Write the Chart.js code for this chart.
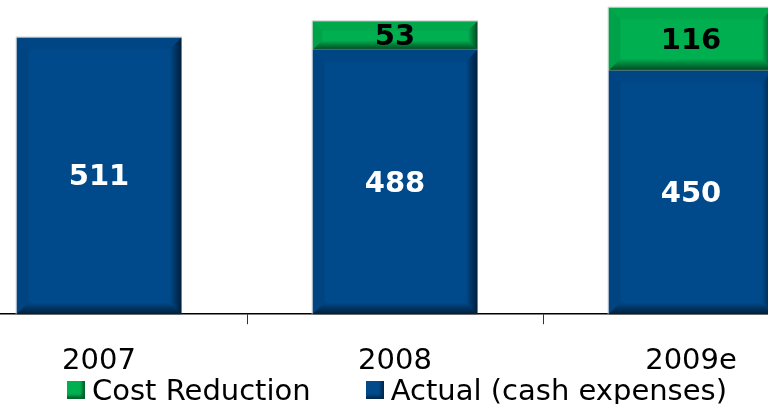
<!DOCTYPE html>
<html>
<head>
<meta charset="utf-8">
<script src="https://cdn.jsdelivr.net/npm/chart.js@4"></script>
<style>
    html, body {
        margin: 0;
        padding: 0;
        background: #fff;
        overflow: hidden;
        width: 768px;
        height: 404px;
        font-family: "DejaVu Sans", Verdana, sans-serif;
    }
    #chart-wrap {
        position: absolute;
        left: -49px;
        top: 0;
        width: 888px;
        height: 404px;
    }
    #legend {
        position: absolute;
        left: 13px;
        top: 373px;
        width: 768px;
        display: flex;
        justify-content: center;
        gap: 55px;
        font-size: 29px;
        line-height: 34px;
        color: #000;
        white-space: nowrap;
    }
    .legend-item {
        display: flex;
        align-items: center;
    }
    .legend-box {
        width: 18px;
        height: 18px;
        margin-right: 7px;
        box-shadow: inset -3px -3px 3px rgba(0,0,0,0.45);
    }
</style>
</head>
<body>
<div id="chart-wrap"><canvas id="costChart"></canvas></div>
<div id="legend"></div>

<script>
const years = ["2007", "2008", "2009e"];
const actualValues = [511, 488, 450];
const reductionValues = [0, 53, 116];

const blue = "#004A8C";
const green = "#00B050";

// bevelled look of the bars
const bevelPlugin = {
    id: "bevel",
    afterDatasetsDraw(chart) {
        const ctx = chart.ctx;
        chart.data.datasets.forEach((ds, i) => {
            chart.getDatasetMeta(i).data.forEach((bar, j) => {
                if (!ds.data[j]) return;
                const p = bar.getProps(["x", "y", "base", "width"], true);
                const l = p.x - p.width / 2;
                const r = p.x + p.width / 2;
                const t = Math.min(p.y, p.base);
                const b = Math.max(p.y, p.base);
                const s = Math.min(12, (b - t) / 3);
                ctx.save();

                ctx.fillStyle = "rgba(0,0,0,0.05)";
                ctx.beginPath();
                ctx.moveTo(l, t); ctx.lineTo(r, t); ctx.lineTo(r - s, t + s); ctx.lineTo(l + s, t + s);
                ctx.fill();

                ctx.fillStyle = "rgba(0,0,0,0.08)";
                ctx.beginPath();
                ctx.moveTo(l, t); ctx.lineTo(l + s, t + s); ctx.lineTo(l + s, b - s); ctx.lineTo(l, b);
                ctx.fill();

                let g = ctx.createLinearGradient(r, 0, r - s, 0);
                g.addColorStop(0, "rgba(0,0,0,0.6)");
                g.addColorStop(1, "rgba(0,0,0,0.0)");
                ctx.fillStyle = g;
                ctx.beginPath();
                ctx.moveTo(r, t); ctx.lineTo(r, b); ctx.lineTo(r - s, b - s); ctx.lineTo(r - s, t + s);
                ctx.fill();

                g = ctx.createLinearGradient(0, b, 0, b - s);
                g.addColorStop(0, "rgba(0,0,0,0.6)");
                g.addColorStop(1, "rgba(0,0,0,0.0)");
                ctx.fillStyle = g;
                ctx.beginPath();
                ctx.moveTo(l, b); ctx.lineTo(r, b); ctx.lineTo(r - s, b - s); ctx.lineTo(l + s, b - s);
                ctx.fill();

                ctx.strokeStyle = "rgba(200,200,200,0.7)";
                ctx.lineWidth = 1;
                ctx.beginPath();
                ctx.moveTo(l - 0.5, b); ctx.lineTo(l - 0.5, t - 0.5); ctx.lineTo(r + 0.5, t - 0.5);
                ctx.stroke();
                ctx.restore();
            });
        });
    }
};

const valueLabels = {
    id: "valueLabels",
    afterDatasetsDraw(chart) {
        const ctx = chart.ctx;
        ctx.save();
        ctx.font = "bold 29px 'DejaVu Sans'";
        ctx.textAlign = "center";
        ctx.textBaseline = "middle";
        chart.data.datasets.forEach((ds, i) => {
            chart.getDatasetMeta(i).data.forEach((bar, j) => {
                const v = ds.data[j];
                if (!v) return;
                const p = bar.getProps(["x", "y", "base"], true);
                ctx.fillStyle = ds.labelColor;
                ctx.fillText(String(v), p.x, (p.y + p.base) / 2 + 2);
            });
        });
        ctx.restore();
    }
};

const chart = new Chart(document.getElementById("costChart"), {
    type: "bar",
    data: {
        labels: years,
        datasets: [
            {
                label: "Actual (cash expenses)",
                data: actualValues,
                backgroundColor: blue,
                labelColor: "#fff",
                categoryPercentage: 1,
                barPercentage: 0.557
            },
            {
                label: "Cost Reduction",
                data: reductionValues,
                backgroundColor: green,
                labelColor: "#000",
                categoryPercentage: 1,
                barPercentage: 0.557
            }
        ]
    },
    options: {
        responsive: true,
        maintainAspectRatio: false,
        animation: false,
        layout: {
            padding: { top: 0, left: 0, right: 0, bottom: 5 }
        },
        scales: {
            x: {
                stacked: true,
                border: { color: "#000", width: 1.5 },
                grid: {
                    drawOnChartArea: false,
                    tickLength: 10,
                    color: "#333"
                },
                ticks: {
                    color: "#000",
                    padding: 20,
                    font: { family: "DejaVu Sans", size: 29 }
                }
            },
            y: {
                stacked: true,
                display: false,
                min: 0,
                max: 580
            }
        },
        plugins: {
            legend: { display: false },
            tooltip: { enabled: false }
        }
    },
    plugins: [bevelPlugin, valueLabels]
});

// legend: series in reverse order, as in the original
const legend = document.getElementById("legend");
legend.innerHTML = chart.data.datasets.slice().reverse().map(ds =>
    `<div class="legend-item">
        <span class="legend-box" style="background:${ds.backgroundColor}"></span>
        <span>${ds.label}</span>
    </div>`
).join("");
</script>
</body>
</html>
